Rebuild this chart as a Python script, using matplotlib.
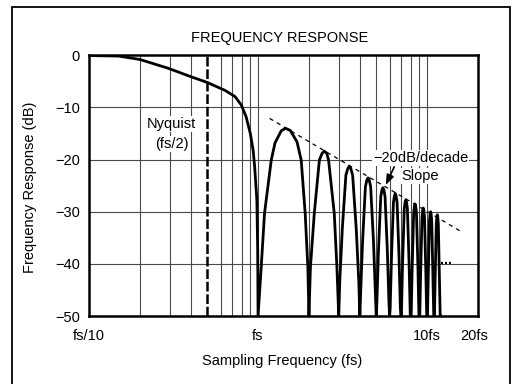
import matplotlib
matplotlib.use('Agg')
import matplotlib.pyplot as plt
from matplotlib.patches import Rectangle
from matplotlib.transforms import ScaledTranslation
import numpy as np

plt.rcParams['font.family'] = ['Liberation Sans', 'DejaVu Sans']
plt.rcParams['lines.scale_dashes'] = False

# ---------------- data ----------------
# frequency in units of fs, response in dB
main_f = [0.1, 0.15, 0.2, 0.295, 0.4, 0.5, 0.635, 0.73, 0.795, 0.85, 0.9, 0.935, 0.955, 0.984, 0.995, 1.0]
main_db = [-0.05, -0.15, -0.8, -2.5, -4.1, -5.2, -6.7, -7.9, -9.5, -11.8, -15.0, -18.2, -21.4, -27.8, -37.4, -50]

sl1_f = [1.0, 1.044, 1.092, 1.197, 1.26, 1.37, 1.45, 1.55, 1.70, 1.80, 1.90, 1.97, 2.0]
sl1_db = [-50, -40.6, -30.3, -20.1, -16.8, -14.5, -14.0, -14.4, -16.6, -20.1, -30.3, -40.6, -50]

sl2_f = [2.0, 2.041, 2.151, 2.305, 2.391, 2.469, 2.551, 2.613, 2.823, 2.927, 3.0]
sl2_db = [-50, -40.6, -30.3, -20.1, -18.8, -18.4, -18.8, -20.1, -30.3, -40.6, -50]

sl3_f = [3.0, 3.044, 3.150, 3.308, 3.395, 3.464, 3.535, 3.627, 3.809, 3.943, 4.0]
sl3_db = [-50, -43.3, -33.3, -23.0, -21.7, -21.3, -21.7, -23.0, -33.3, -43.3, -50]

sl4_f = [4.0, 4.045, 4.155, 4.315, 4.403, 4.472, 4.543, 4.635, 4.814, 4.945, 5.0]
sl4_db = [-50, -45.5, -35.5, -25.2, -23.9, -23.5, -23.9, -25.2, -35.5, -45.5, -50]

sl5_f = [5.0, 5.046, 5.157, 5.320, 5.408, 5.477, 5.548, 5.639, 5.817, 5.946, 6.0]
sl5_db = [-50, -47.4, -37.4, -27.1, -25.8, -25.4, -25.8, -27.1, -37.4, -47.4, -50]

sl6_f = [6.0, 6.046, 6.159, 6.323, 6.411, 6.481, 6.551, 6.643, 6.819, 6.946, 7.0]
sl6_db = [-50, -48.5, -38.5, -28.2, -26.9, -26.5, -26.9, -28.2, -38.5, -48.5, -50]

sl7_f = [7.0, 7.047, 7.161, 7.325, 7.414, 7.483, 7.554, 7.645, 7.820, 7.947, 8.0]
sl7_db = [-50, -49.7, -39.7, -29.4, -28.1, -27.7, -28.1, -29.4, -39.7, -49.7, -50]

sl8_f = [8.0, 8.047, 8.162, 8.327, 8.416, 8.485, 8.556, 8.647, 8.822, 8.947, 9.0]
sl8_db = [-50, -50, -40.5, -30.2, -28.9, -28.5, -28.9, -30.2, -40.5, -50, -50]

sl9_f = [9.0, 9.048, 9.163, 9.328, 9.417, 9.487, 9.557, 9.648, 9.823, 9.948, 10.0]
sl9_db = [-50, -50, -41.3, -31.0, -29.7, -29.3, -29.7, -31.0, -41.3, -50, -50]

sl10_f = [10.0, 10.048, 10.163, 10.329, 10.418, 10.488, 10.558, 10.649, 10.823, 10.948, 11.0]
sl10_db = [-50, -50, -42.0, -31.7, -30.4, -30.0, -30.4, -31.7, -42.0, -50, -50]

sl11_f = [11.0, 11.048, 11.164, 11.330, 11.419, 11.489, 11.559, 11.650, 11.824, 11.948, 12.0]
sl11_db = [-50, -50, -42.6, -32.3, -31.0, -30.6, -31.0, -32.3, -42.6, -50, -50]

slope_f = [1.17, 15.7]
slope_db = [-12.1, -33.7]

nyquist_f = 0.5

y_ticks = [0, -10, -20, -30, -40, -50]
y_tick_labels = ['0', '\u221210', '\u221220', '\u221230', '\u221240', '\u221250']
x_ticks = [0.1, 1, 10, 20]
x_tick_labels = ['fs/10', 'fs', '10fs', '20fs']
x_grid_minor = [0.2, 0.3, 0.4, 0.6, 0.7, 0.8, 0.9, 2, 3, 4, 5, 6, 7, 8, 9]

# ---------------- figure ----------------
W, H = 514, 384
fig = plt.figure(figsize=(W / 100, H / 100), dpi=100)
fig.patch.set_facecolor('white')

# outer frame
fig.patches.append(Rectangle((11.5 / W, -0.05), (510 - 11.5) / W, 1 - 7.3 / H + 0.05,
                             transform=fig.transFigure, fill=False, lw=1.3,
                             ec='black', zorder=0))

ax = fig.add_axes([89 / W, 68 / H, 389 / W, 260.7 / H])
ax.set_xscale('log')
ax.set_xlim(0.1, 20)
ax.set_ylim(-50, 0)

# grid
for xv in x_grid_minor + [1, 10]:
    ax.axvline(xv, color='#4a4a4a', lw=0.8, zorder=1)
for yv in y_ticks[1:-1]:
    ax.axhline(yv, color='#4a4a4a', lw=0.8, zorder=1)

# Nyquist dashed line
ax.axvline(nyquist_f, color='black', lw=1.8, dashes=(7, 2), zorder=2)

# response curve
curve_f = np.concatenate([main_f, sl1_f, sl2_f, sl3_f, sl4_f, sl5_f, sl6_f,
                          sl7_f, sl8_f, sl9_f, sl10_f, sl11_f])
curve_db = np.concatenate([main_db, sl1_db, sl2_db, sl3_db, sl4_db, sl5_db, sl6_db,
                           sl7_db, sl8_db, sl9_db, sl10_db, sl11_db])
ax.plot(curve_f, curve_db, color='black', lw=2.0, solid_joinstyle='round', zorder=3)

# -20 dB/decade slope
ax.plot(slope_f, slope_db, color='black', lw=0.9, dashes=(3, 3), zorder=3)

# ticks
ax.set_xticks(x_ticks)
ax.set_xticklabels(x_tick_labels)
ax.set_xticks([], minor=True)
ax.set_yticks(y_ticks)
ax.set_yticklabels(y_tick_labels)
ax.tick_params(axis='both', length=0, labelsize=10.5)
ax.tick_params(axis='y', pad=6.5)
ax.tick_params(axis='x', pad=9)
for s in ax.spines.values():
    s.set_linewidth(1.8)
    s.set_zorder(5)

# nudge the last x label slightly left like the original
lbl = ax.get_xticklabels()[-1]
lbl.set_transform(lbl.get_transform() + ScaledTranslation(-4 / 100, 0, fig.dpi_scale_trans))

# labels
ax.set_xlabel('Sampling Frequency (fs)', fontsize=10.5)
ax.xaxis.label.set_va('center')
ax.xaxis.set_label_coords((282 - 89) / 389, (316 - 361) / 260.7)
ax.set_ylabel('Frequency Response (dB)', fontsize=10.5)
ax.yaxis.label.set_va('center')
ax.yaxis.set_label_coords((30 - 89) / 389, (316 - 187) / 260.7)

fig.text(280 / W, 1 - 38 / H, 'FREQUENCY RESPONSE', ha='center', va='center', fontsize=10.5)

box = dict(fc='white', ec='none', pad=0.6)
ax.text(0.309, -13.2, 'Nyquist', ha='center', va='center', fontsize=10.5, bbox=box, zorder=4)
ax.text(0.309, -17.0, '(fs/2)', ha='center', va='center', fontsize=10.5, bbox=box, zorder=4)
ax.text(9.18, -19.65, '\u221220dB/decade', ha='center', va='center', fontsize=10.5, bbox=box, zorder=4)
ax.text(9.1, -23.2, 'Slope', ha='center', va='center', fontsize=10.5, bbox=box, zorder=4)

ax.annotate('', xy=(5.69, -24.9), xytext=(6.39, -21.4),
            arrowprops=dict(arrowstyle='-|>,head_length=0.6,head_width=0.22',
                            color='black', lw=1.2, shrinkA=0, shrinkB=0), zorder=4)

ax.text(12.9, -40.0, '...', ha='center', va='baseline', fontsize=10, fontweight='bold', zorder=4)

fig.savefig('out.png', dpi=100, facecolor='white')
